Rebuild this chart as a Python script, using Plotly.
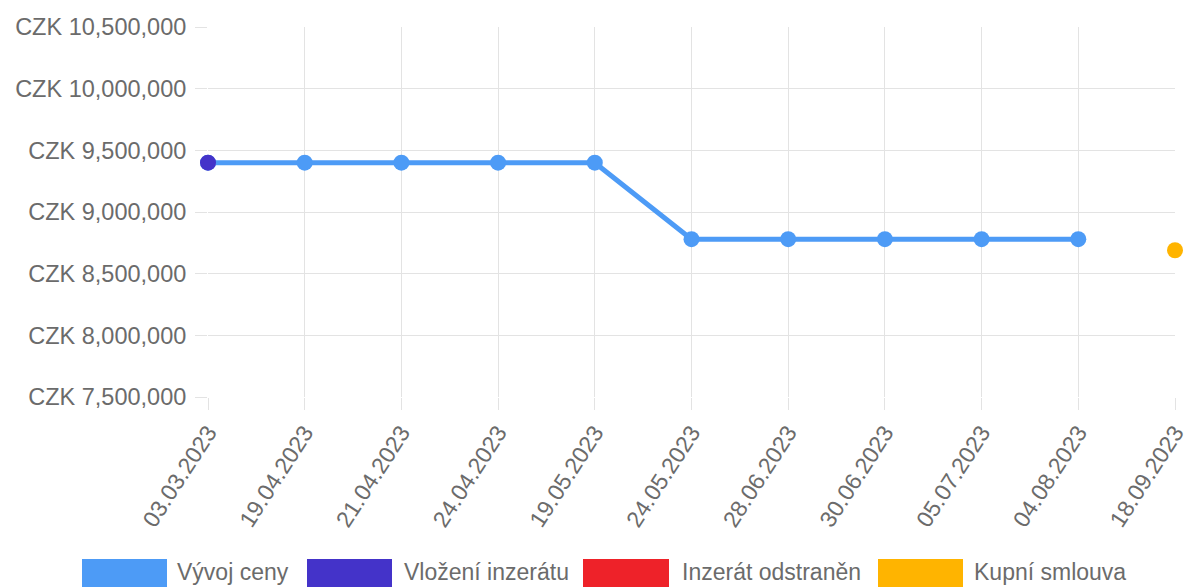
import plotly.graph_objects as go

# Dates of recorded events (category axis)
dates = ["03.03.2023", "19.04.2023", "21.04.2023", "24.04.2023", "19.05.2023",
         "24.05.2023", "28.06.2023", "30.06.2023", "05.07.2023", "04.08.2023",
         "18.09.2023"]

# Asking-price history (CZK); no price change recorded on the last date
price_history = [9400000, 9400000, 9400000, 9400000, 9400000,
                 8780000, 8780000, 8780000, 8780000, 8780000, None]

# Single-event markers
listing_dates = ["03.03.2023"]
listing_values = [9400000]
removed_dates = []
removed_values = []
contract_dates = ["18.09.2023"]
contract_values = [8690000]

y_ticks = [7500000, 8000000, 8500000, 9000000, 9500000, 10000000, 10500000]
y_tick_labels = ["CZK {:,}".format(v) for v in y_ticks]

series_names = ["Vývoj ceny", "Vložení inzerátu", "Inzerát odstraněn", "Kupní smlouva"]
series_colors = ["#4d9bf6", "#4433c9", "#ee2229", "#ffb400"]

W, H = 1201, 587
M_L, M_R, M_T, M_B = 208, 26, 27, 190
FONT = "Liberation Sans, Arial, sans-serif"
TXT = "#6b6b6b"
GRID = "#e3e3e3"

fig = go.Figure()

fig.add_trace(go.Scatter(
    x=dates, y=price_history, mode="lines+markers", name=series_names[0],
    line=dict(color=series_colors[0], width=5),
    marker=dict(color=series_colors[0], size=16),
    cliponaxis=False, connectgaps=False,
))
fig.add_trace(go.Scatter(
    x=listing_dates, y=listing_values, mode="markers", name=series_names[1],
    marker=dict(color=series_colors[1], size=16), cliponaxis=False,
))
fig.add_trace(go.Scatter(
    x=removed_dates, y=removed_values, mode="markers", name=series_names[2],
    marker=dict(color=series_colors[2], size=16), cliponaxis=False,
))
fig.add_trace(go.Scatter(
    x=contract_dates, y=contract_values, mode="markers", name=series_names[3],
    marker=dict(color=series_colors[3], size=16), cliponaxis=False,
))

# Legend drawn as wide colour boxes with labels beneath the chart
plot_w = W - M_L - M_R
plot_h = H - M_T - M_B


def px_x(p):
    return (p - M_L) / plot_w


def px_y(p):
    return (H - M_B - p) / plot_h


legend_boxes = [(82, 167, 175), (307, 392, 402), (583, 669, 680), (878, 963, 972)]
shapes = []
annotations = []
for (x0, x1, tx), name, col in zip(legend_boxes, series_names, series_colors):
    shapes.append(dict(type="rect", xref="paper", yref="paper",
                       x0=px_x(x0), x1=px_x(x1), y0=px_y(595), y1=px_y(559),
                       fillcolor=col, line=dict(width=0), layer="above"))
    annotations.append(dict(text=name, xref="paper", yref="paper",
                            x=px_x(tx), y=px_y(572), xanchor="left", yanchor="middle",
                            showarrow=False, font=dict(family=FONT, size=23, color=TXT)))

fig.update_layout(
    width=W, height=H,
    margin=dict(l=M_L, r=M_R, t=M_T, b=M_B, pad=0),
    paper_bgcolor="white", plot_bgcolor="white",
    showlegend=False,
    font=dict(family=FONT, size=23, color=TXT),
    shapes=shapes, annotations=annotations,
)
fig.update_xaxes(
    type="category", categoryorder="array", categoryarray=dates,
    range=[0, len(dates) - 1], automargin=False,
    showgrid=True, gridcolor=GRID, gridwidth=1,
    ticks="outside", ticklen=12, tickcolor=GRID, tickwidth=1,
    tickangle=-57, tickfont=dict(family=FONT, size=23, color=TXT),
    showline=False, zeroline=False,
)
fig.update_yaxes(
    range=[7500000, 10500000], tickvals=y_ticks, ticktext=y_tick_labels,
    automargin=False, ticklabelstandoff=4,
    showgrid=True, gridcolor=GRID, gridwidth=1,
    ticks="outside", ticklen=12, tickcolor=GRID, tickwidth=1,
    tickfont=dict(family=FONT, size=23.5, color=TXT),
    showline=False, zeroline=False,
)

fig.write_html("out.html")
